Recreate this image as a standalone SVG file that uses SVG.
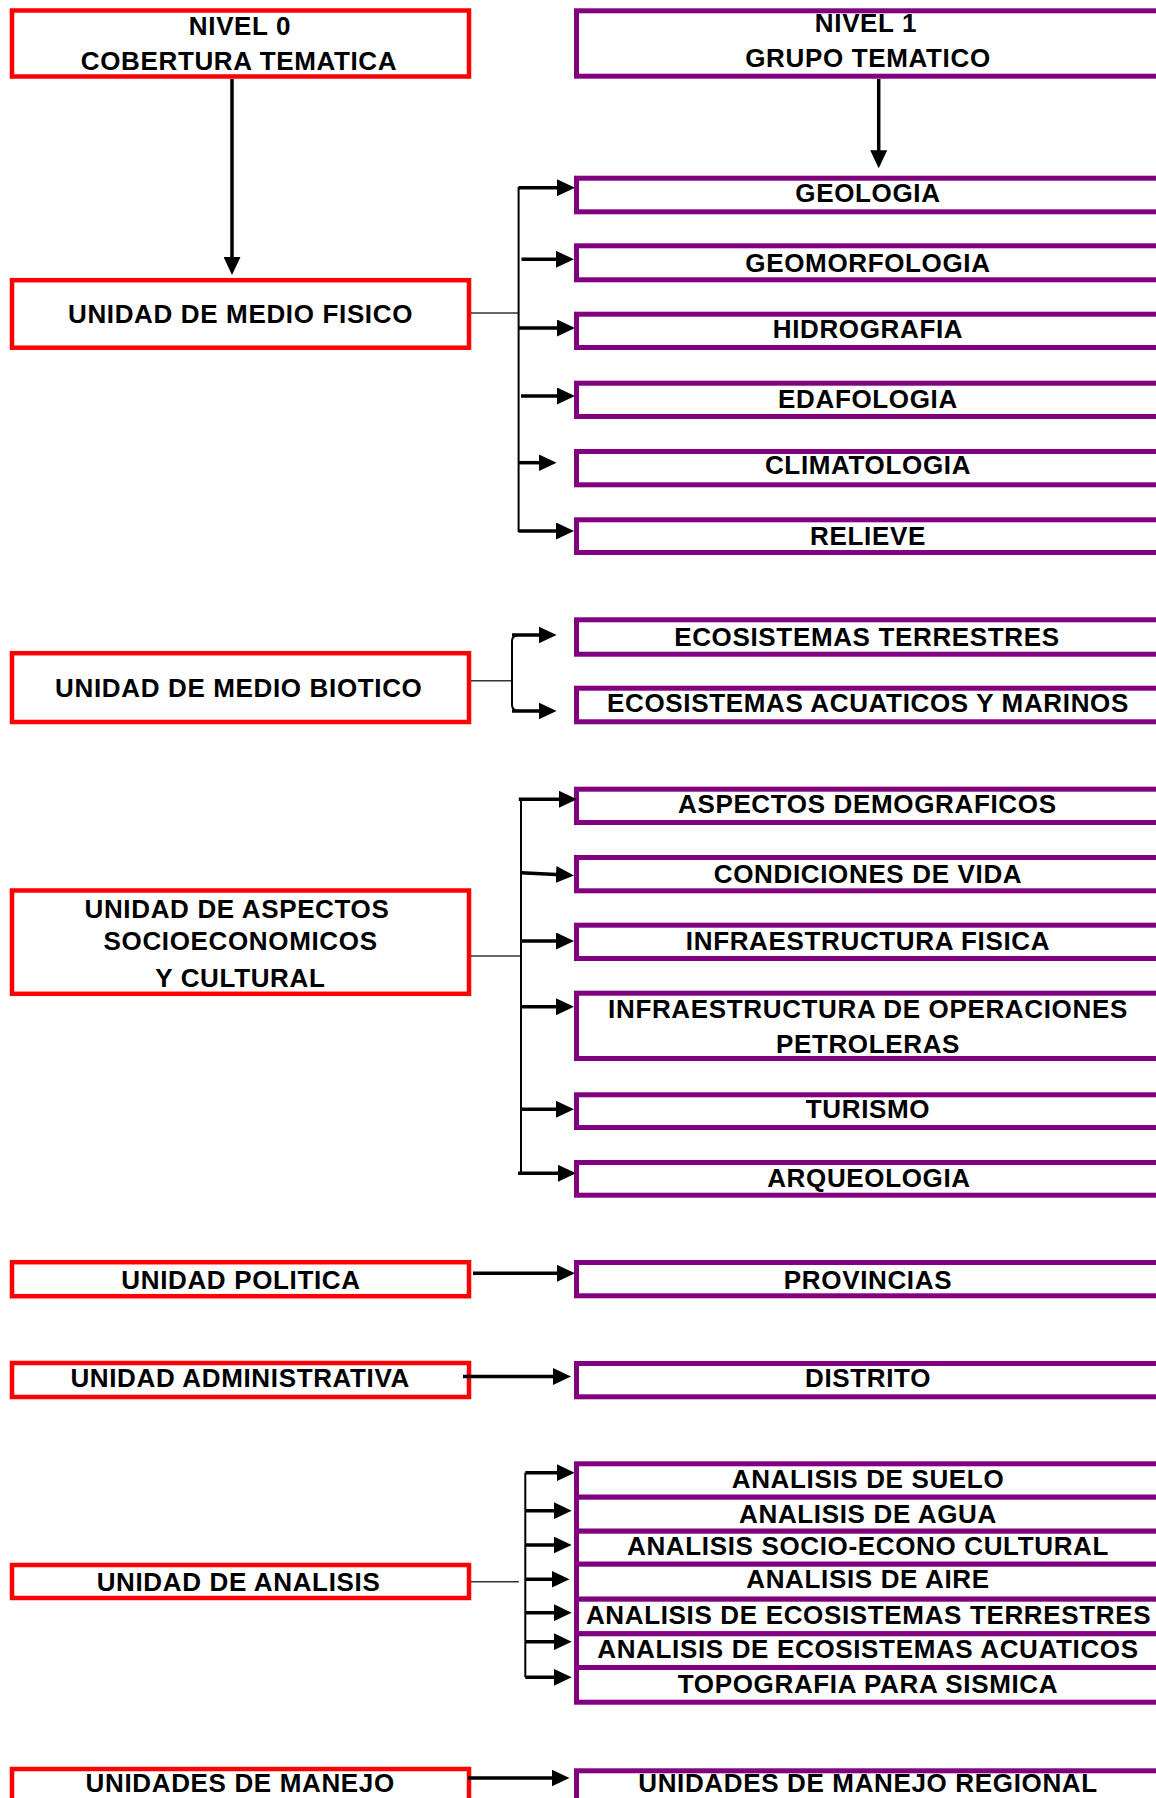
<svg xmlns="http://www.w3.org/2000/svg" width="1156" height="1798" viewBox="0 0 1156 1798">
<style>
.r{fill:#fff;stroke:#ff0000;stroke-width:4.5}
.p{fill:#fff;stroke:#800080;stroke-width:5}
text{font-family:"Liberation Sans",Arial,sans-serif;font-weight:bold;font-size:26px;letter-spacing:0.65px;fill:#000;text-anchor:middle}
.a{stroke:#000;stroke-width:3.5;fill:none;marker-end:url(#ah)}
.b{stroke:#000;stroke-width:2;fill:none}
.c{stroke:#333;stroke-width:1.5;fill:none}
</style>
<defs>
<marker id="ah" markerUnits="userSpaceOnUse" markerWidth="18" markerHeight="17" refX="10" refY="8.5" orient="auto">
<path d="M0,0 L18,8.5 L0,17 z" fill="#000"/>
</marker>
</defs>
<rect width="1156" height="1798" fill="#fff"/>

<g id="n0"><rect class="r" x="12" y="10.5" width="457" height="66"/><text x="240" y="35">NIVEL 0</text><text x="239" y="70">COBERTURA TEMATICA</text></g>
<g id="n1"><rect class="p" x="576.5" y="10.8" width="590" height="65.4"/><text x="866" y="31.7">NIVEL 1</text><text x="868" y="66.7">GRUPO TEMATICO</text></g>

<g id="fisico"><rect class="r" x="12" y="280.2" width="457" height="67.5"/><text x="240.5" y="322.7">UNIDAD DE MEDIO FISICO</text></g>
<g id="geologia"><rect class="p" x="576.5" y="178.2" width="590" height="33.6"/><text x="868" y="202.3">GEOLOGIA</text></g>
<g id="geomorfologia"><rect class="p" x="576.5" y="245.8" width="590" height="34"/><text x="868" y="271.7">GEOMORFOLOGIA</text></g>
<g id="hidrografia"><rect class="p" x="576.5" y="314.2" width="590" height="33.3"/><text x="868" y="338.3">HIDROGRAFIA</text></g>
<g id="edafologia"><rect class="p" x="576.5" y="383.2" width="590" height="33.3"/><text x="868" y="408.3">EDAFOLOGIA</text></g>
<g id="climatologia"><rect class="p" x="576.5" y="451.5" width="590" height="33.3"/><text x="868" y="474.3">CLIMATOLOGIA</text></g>
<g id="relieve"><rect class="p" x="576.5" y="519.8" width="590" height="32.7"/><text x="868" y="545">RELIEVE</text></g>

<g id="biotico"><rect class="r" x="12" y="653.2" width="457" height="68.8"/><text x="238.8" y="696.7">UNIDAD DE MEDIO BIOTICO</text></g>
<g id="ecoterr"><rect class="p" x="576.5" y="619.8" width="590" height="34.4"/><text x="867" y="645.7">ECOSISTEMAS TERRESTRES</text></g>
<g id="ecoacu"><rect class="p" x="576.5" y="688.2" width="590" height="33.6"/><text x="868" y="712.3">ECOSISTEMAS ACUATICOS Y MARINOS</text></g>

<g id="aspectos"><rect class="r" x="12" y="890.5" width="457" height="103.3"/><text x="237" y="917.7">UNIDAD DE ASPECTOS</text><text x="240.6" y="950">SOCIOECONOMICOS</text><text x="240.4" y="986.7">Y CULTURAL</text></g>
<g id="demograficos"><rect class="p" x="576.5" y="789.2" width="590" height="33.3"/><text x="867.3" y="813.3">ASPECTOS DEMOGRAFICOS</text></g>
<g id="condiciones"><rect class="p" x="576.5" y="857.5" width="590" height="33.3"/><text x="868" y="882.7">CONDICIONES DE VIDA</text></g>
<g id="infrafisica"><rect class="p" x="576.5" y="925.2" width="590" height="33.3"/><text x="868" y="950">INFRAESTRUCTURA FISICA</text></g>
<g id="infraoper"><rect class="p" x="576.5" y="993.2" width="590" height="65.3"/><text x="868" y="1018.3">INFRAESTRUCTURA DE OPERACIONES</text><text x="868" y="1053.3">PETROLERAS</text></g>
<g id="turismo"><rect class="p" x="576.5" y="1094.8" width="590" height="32.7"/><text x="868" y="1117.7">TURISMO</text></g>
<g id="arqueologia"><rect class="p" x="576.5" y="1162.5" width="590" height="32.7"/><text x="869" y="1186.7">ARQUEOLOGIA</text></g>

<g id="politica"><rect class="r" x="12" y="1262.2" width="457" height="34"/><text x="241" y="1289">UNIDAD POLITICA</text></g>
<g id="provincias"><rect class="p" x="576.5" y="1262.5" width="590" height="33.3"/><text x="868" y="1289">PROVINCIAS</text></g>

<g id="administrativa"><rect class="r" x="12" y="1363" width="457" height="34"/><text x="240.2" y="1386.7">UNIDAD ADMINISTRATIVA</text></g>
<g id="distrito"><rect class="p" x="576.5" y="1363.5" width="590" height="33.3"/><text x="868" y="1386.7">DISTRITO</text></g>

<g id="analisis"><rect class="r" x="12" y="1565" width="457" height="33"/><text x="238.5" y="1590.5">UNIDAD DE ANALISIS</text></g>
<g id="suelo"><rect class="p" x="576.5" y="1463.8" width="590" height="33.4"/><text x="868" y="1488.3">ANALISIS DE SUELO</text></g>
<g id="agua"><rect class="p" x="576.5" y="1497.2" width="590" height="34"/><text x="868" y="1522.7">ANALISIS DE AGUA</text></g>
<g id="socio"><rect class="p" x="576.5" y="1531.2" width="590" height="33"/><text x="868" y="1555">ANALISIS SOCIO-ECONO CULTURAL</text></g>
<g id="aire"><rect class="p" x="576.5" y="1564.2" width="590" height="35"/><text x="868" y="1588.3">ANALISIS DE AIRE</text></g>
<g id="aterr"><rect class="p" x="576.5" y="1599.2" width="590" height="34.6"/><text x="868.6" y="1624">ANALISIS DE ECOSISTEMAS TERRESTRES</text></g>
<g id="aacu"><rect class="p" x="576.5" y="1633.8" width="590" height="33.7"/><text x="868" y="1658.3">ANALISIS DE ECOSISTEMAS ACUATICOS</text></g>
<g id="topografia"><rect class="p" x="576.5" y="1667.5" width="590" height="34.7"/><text x="868" y="1693.3">TOPOGRAFIA PARA SISMICA</text></g>

<g id="manejo"><rect class="r" x="12" y="1769" width="457" height="40"/><text x="240.2" y="1791.7">UNIDADES DE MANEJO</text></g>
<g id="manejoreg"><rect class="p" x="576.5" y="1770.8" width="590" height="40"/><text x="868" y="1791.7">UNIDADES DE MANEJO REGIONAL</text></g>

<g id="connectors">
<line class="a" x1="232" y1="79" x2="232" y2="267"/>
<line class="a" x1="878.7" y1="79" x2="878.7" y2="160.3"/>

<line class="c" x1="471" y1="313" x2="518.6" y2="313"/>
<line class="b" x1="518.6" y1="187" x2="518.6" y2="532"/>
<line class="a" x1="518.6" y1="187.7" x2="567" y2="187.7"/>
<line class="a" x1="521.5" y1="259.3" x2="566" y2="259.3"/>
<line class="a" x1="518.6" y1="328" x2="567" y2="328"/>
<line class="a" x1="521" y1="396" x2="567" y2="396"/>
<line class="a" x1="518.6" y1="462.7" x2="548.6" y2="462.7"/>
<line class="a" x1="518.6" y1="531" x2="566" y2="531"/>

<line class="c" x1="471" y1="680.7" x2="512" y2="680.7"/>
<path class="b" d="M520,635 Q512,635 512,641 L512,705 Q512,711 520,711"/>
<line class="a" x1="512" y1="635" x2="548.6" y2="635"/>
<line class="a" x1="512" y1="711" x2="548.6" y2="711"/>

<line class="c" x1="471" y1="956" x2="521" y2="956"/>
<line class="b" x1="521" y1="799" x2="521" y2="1174"/>
<line class="a" x1="518.8" y1="799.3" x2="569" y2="799.3"/>
<line class="a" x1="521" y1="872.7" x2="566" y2="875"/>
<line class="a" x1="521" y1="941" x2="566" y2="941"/>
<line class="a" x1="521" y1="1006.7" x2="566" y2="1006.7"/>
<line class="a" x1="521" y1="1109.3" x2="566" y2="1109.3"/>
<line class="a" x1="518" y1="1173.3" x2="568" y2="1173.3"/>

<line class="a" x1="473" y1="1273.3" x2="567" y2="1273.3"/>
<line class="a" x1="463" y1="1376.5" x2="563" y2="1376.5"/>

<line class="c" x1="471" y1="1581.7" x2="518.8" y2="1581.7"/>
<line class="b" x1="525.3" y1="1472.7" x2="525.3" y2="1677.3"/>
<line class="a" x1="525.3" y1="1472.7" x2="566.7" y2="1472.7"/>
<line class="a" x1="525.3" y1="1510.7" x2="563.7" y2="1510.7"/>
<line class="a" x1="525.3" y1="1545" x2="563.7" y2="1545"/>
<line class="a" x1="525.3" y1="1579.3" x2="561.5" y2="1579.3"/>
<line class="a" x1="525.3" y1="1612.7" x2="563.7" y2="1612.7"/>
<line class="a" x1="525.3" y1="1641.7" x2="563.7" y2="1641.7"/>
<line class="a" x1="525.3" y1="1677.3" x2="563.7" y2="1677.3"/>

<line class="a" x1="468" y1="1778" x2="561.5" y2="1778"/>
</g>
</svg>
